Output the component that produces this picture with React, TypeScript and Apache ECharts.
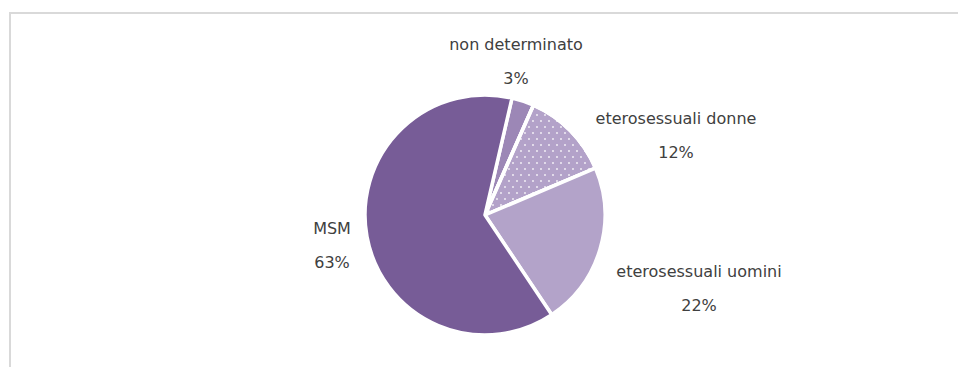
import React, { useEffect, useRef } from "react";
import * as echarts from "echarts";

const categories = ["non determinato", "eterosessuali donne", "eterosessuali uomini", "MSM"];
const values = [3, 12, 22, 63];
const colors = ["#9C87B6", "#B3A2C9", "#B3A3C9", "#775C97"];
const labelPos: [number, number][] = [
  [516, 61],
  [676, 135],
  [699, 288],
  [332, 245],
];

export default function App() {
  const ref = useRef<HTMLDivElement>(null);
  useEffect(() => {
    if (!ref.current) return;
    const chart = echarts.init(ref.current, undefined, { renderer: "svg" });
    chart.setOption({
      animation: false,
      backgroundColor: "#ffffff",
      graphic: [
        {
          type: "rect",
          shape: { x: 10, y: 13, width: 1000, height: 400 },
          style: { fill: "none", stroke: "#D9D9D9", lineWidth: 2 },
          silent: true,
        },
      ],
      series: [
        {
          type: "pie",
          center: [485, 215],
          radius: 120,
          startAngle: 77,
          clockwise: true,
          avoidLabelOverlap: false,
          label: {
            show: true,
            position: "outside",
            formatter: "{b}\n{d}%",
            fontFamily: "DejaVu Sans",
            fontSize: 16,
            lineHeight: 34,
            color: "#404040",
            align: "center",
          },
          labelLine: { show: false },
          labelLayout: (params: any) => {
            const p = labelPos[params.dataIndex];
            return { x: p[0], y: p[1], align: "center", verticalAlign: "middle" };
          },
          itemStyle: { borderColor: "#ffffff", borderWidth: 3.5 },
          emphasis: { disabled: true },
          data: categories.map((name, i) => ({
            name,
            value: values[i],
            itemStyle:
              i === 1
                ? {
                    color: colors[i],
                    decal: {
                      symbol: "rect",
                      symbolSize: 0.8,
                      color: "#ffffff",
                      dashArrayX: [
                        [2, 6],
                        [0, 4, 2, 2],
                      ],
                      dashArrayY: [2, 4],
                      rotation: 0,
                    },
                  }
                : { color: colors[i] },
          })),
        },
      ],
    });
    return () => chart.dispose();
  }, []);
  return (
    <div
      ref={ref}
      style={{ position: "fixed", left: 0, top: 0, width: 958, height: 367 }}
    />
  );
}
